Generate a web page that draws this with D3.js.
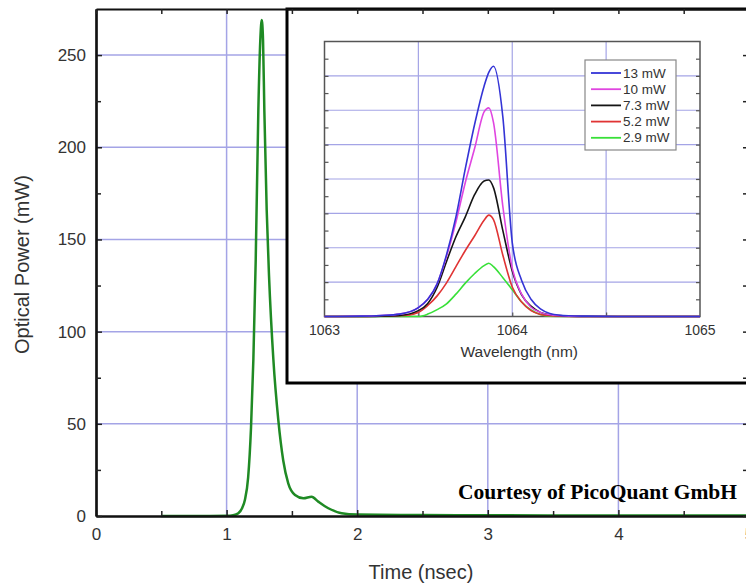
<!DOCTYPE html>
<html>
<head>
<meta charset="utf-8">
<script src="https://cdn.jsdelivr.net/npm/d3@7"></script>
<style>
body { margin:0; background:#fff; }
svg { display:block; font-family:"Liberation Sans", Arial, sans-serif; }
</style>
</head>
<body>
<svg id="drawing_region"></svg>
<script>
// main pulse: time (ns) vs optical power (mW)
const time_ns  = [0.5, 0.8, 1.0, 1.05, 1.09, 1.12, 1.14, 1.165, 1.187, 1.205, 1.223, 1.243, 1.258, 1.269, 1.279, 1.289, 1.307, 1.325, 1.358, 1.396, 1.434, 1.472, 1.524, 1.588, 1.651, 1.702, 1.779, 1.881, 2.0, 2.5, 3.0, 4.0, 5.0];
const power_mw = [0,   0,   0.1, 0.4,  1.5,  4.5,  8.7,  21,    48,    85,    139,   220,   258,   269,   258,   220,   166,   130,   85,    52,    30,    17.7,  11.4,  9.6,   10.5,  7.8,   4.2,   1.5,   0.8, 0.5, 0.4, 0.3, 0.3];

// inset spectra
const wavelength_nm = [1063.0, 1063.2, 1063.3, 1063.4, 1063.5, 1063.55, 1063.6, 1063.65, 1063.7, 1063.75, 1063.8, 1063.85, 1063.875, 1063.9, 1063.95, 1064.0, 1064.05, 1064.1, 1064.15, 1064.2, 1064.3, 1064.4, 1064.6, 1065.0];
const spec_13mw  = [0, 0.01, 0.03, 0.07, 0.26, 0.5,  0.95, 1.8,  2.9,  4.3,  5.6,  6.7,  7.1,  7.28, 5.8,  2.15, 1.05, 0.5,  0.22, 0.09, 0.02, 0.01, 0, 0];
const spec_10mw  = [0, 0.01, 0.03, 0.07, 0.26, 0.5,  0.95, 1.75, 2.75, 3.9,  4.9,  5.95, 6.07, 5.65, 3.2,  1.4,  0.65, 0.27, 0.12, 0.05, 0.01, 0,    0, 0];
const spec_7_3mw = [0, 0,    0.01, 0.03, 0.17, 0.38, 0.85, 1.6,  2.32, 2.9,  3.55, 3.94, 3.97, 3.75, 2.5,  1.32, 0.63, 0.3,  0.12, 0.05, 0.01, 0,    0, 0];
const spec_5_2mw = [0, 0,    0.01, 0.02, 0.12, 0.32, 0.6,  0.98, 1.45, 1.92, 2.35, 2.8,  2.95, 2.82, 1.78, 0.86, 0.42, 0.17, 0.06, 0.02, 0,    0,    0, 0];
const spec_2_9mw = [0, 0,    0,    0,    0,    0.07, 0.2,  0.37, 0.65, 0.97, 1.25, 1.48, 1.55, 1.45, 1.13, 0.78, 0.42, 0.19, 0.06, 0.01, 0,    0,    0, 0];
const series_labels = ['13 mW', '10 mW', '7.3 mW', '5.2 mW', '2.9 mW'];

// ticks
const time_ticks = [0, 1, 2, 3, 4, 5];
const time_minor = [0.5, 1.5, 2.5, 3.5, 4.5];
const power_ticks = [0, 50, 100, 150, 200, 250];
const power_minor = [25, 75, 125, 175, 225];
const wl_ticks = [1063, 1064, 1065];
const wl_minor = [1063.5, 1064.5];
const rel_ticks = [1, 2, 3, 4, 5, 6, 7];
const rel_minor = [0.5, 1.5, 2.5, 3.5, 4.5, 5.5, 6.5, 7.5];

var config = {
    width: 746,
    height: 583,
    main: {left: 96, right: 749, top: 9, bottom: 516},
    inset_box: {x: 287, y: 9, width: 520, height: 374},
    inset: {left: 324.5, right: 700, top: 41.5, bottom: 316.5},
    grid_color: '#a4a4e6',
    text_color: '#333',
    pulse_color: '#1f8a24',
    colors: ['#3434d6', '#e045e0', '#151515', '#e03434', '#38e038']
};

const svg = d3.select('#drawing_region')
    .attr('width', config.width)
    .attr('height', config.height);

const m = config.main;
const xscale = d3.scaleLinear().domain([0, 5]).range([m.left, m.right]);
const yscale = d3.scaleLinear().domain([0, 275]).range([m.bottom, m.top]);

// main grid
const grid = svg.append('g');
grid.selectAll('line.v').data(time_ticks.slice(1)).enter()
    .append('line')
    .attr('x1', d => xscale(d)).attr('x2', d => xscale(d))
    .attr('y1', m.top).attr('y2', m.bottom)
    .attr('stroke', config.grid_color).attr('stroke-width', 1.5);
grid.selectAll('line.h').data(power_ticks.slice(1)).enter()
    .append('line')
    .attr('x1', m.left).attr('x2', m.right)
    .attr('y1', d => yscale(d)).attr('y2', d => yscale(d))
    .attr('stroke', config.grid_color).attr('stroke-width', 1.5);

// pulse
const pulse = time_ns.map((t, i) => ({t: t, p: power_mw[i]}));
svg.append('path')
    .datum(pulse)
    .attr('fill', 'none')
    .attr('stroke', config.pulse_color)
    .attr('stroke-width', 2.5)
    .attr('d', d3.line().x(d => xscale(d.t)).y(d => yscale(d.p)).curve(d3.curveMonotoneX));

// ---------- inset ----------
const b = config.inset_box;
const n = config.inset;
const inset = svg.append('g');
inset.append('rect')
    .attr('x', b.x).attr('y', b.y)
    .attr('width', b.width).attr('height', b.height)
    .attr('fill', '#fff')
    .attr('stroke', '#000')
    .attr('stroke-width', 3);

const wx = d3.scaleLinear().domain([1063, 1065]).range([n.left, n.right]);
const wy = d3.scaleLinear().domain([0, 8]).range([n.bottom, n.top]);

inset.selectAll('line.v').data([1063.5, 1064, 1064.5]).enter()
    .append('line')
    .attr('x1', d => wx(d)).attr('x2', d => wx(d))
    .attr('y1', n.top).attr('y2', n.bottom)
    .attr('stroke', config.grid_color).attr('stroke-width', 1.2);
inset.selectAll('line.h').data(rel_ticks).enter()
    .append('line')
    .attr('x1', n.left).attr('x2', n.right)
    .attr('y1', d => wy(d)).attr('y2', d => wy(d))
    .attr('stroke', config.grid_color).attr('stroke-width', 1.2);

// inset ticks
const tick_len = 4;
inset.append('g').attr('transform', `translate(${n.left},0)`)
    .call(d3.axisLeft(wy).tickValues(rel_ticks.concat(rel_minor)).tickSize(-tick_len).tickSizeOuter(0).tickFormat(''));
inset.append('g').attr('transform', `translate(${n.right},0)`)
    .call(d3.axisRight(wy).tickValues(rel_ticks.concat(rel_minor)).tickSize(-tick_len).tickSizeOuter(0).tickFormat(''));
inset.append('g').attr('transform', `translate(0,${n.bottom})`)
    .call(d3.axisBottom(wx).tickValues(wl_minor.concat([1064])).tickSize(-tick_len).tickSizeOuter(0).tickFormat(''));
inset.selectAll('.domain').remove();
inset.selectAll('.tick line').attr('stroke', '#555').attr('stroke-width', 1.2);

inset.append('rect')
    .attr('x', n.left).attr('y', n.top)
    .attr('width', n.right - n.left).attr('height', n.bottom - n.top)
    .attr('fill', 'none').attr('stroke', '#555').attr('stroke-width', 1.5);

const spectra = [spec_13mw, spec_10mw, spec_7_3mw, spec_5_2mw, spec_2_9mw];
const wline = d3.line().x(d => wx(d[0])).y(d => wy(d[1])).curve(d3.curveMonotoneX);
// draw weakest first so the strong lines sit on top
spectra.slice().reverse().forEach((s, j) => {
    const i = spectra.length - 1 - j;
    inset.append('path')
        .datum(wavelength_nm.map((w, k) => [w, s[k]]))
        .attr('fill', 'none')
        .attr('stroke', config.colors[i])
        .attr('stroke-width', 1.6)
        .attr('d', wline);
});

inset.selectAll('text.wl').data(wl_ticks).enter()
    .append('text')
    .attr('x', d => wx(d)).attr('y', n.bottom + 18)
    .attr('text-anchor', 'middle')
    .attr('font-size', 14)
    .attr('fill', config.text_color)
    .text(d => d);
inset.append('text')
    .attr('x', (n.left + n.right) / 2 + 7).attr('y', n.bottom + 40)
    .attr('text-anchor', 'middle')
    .attr('font-size', 15.5)
    .attr('fill', config.text_color)
    .text('Wavelength (nm)');

// legend
const legend = inset.append('g').attr('transform', 'translate(585,60)');
legend.append('rect')
    .attr('width', 91).attr('height', 90)
    .attr('fill', '#fff').attr('stroke', '#888').attr('stroke-width', 1.2);
const rows = legend.selectAll('g.row').data(series_labels).enter()
    .append('g')
    .attr('transform', (d, i) => `translate(0,${13 + i * 16.2})`);
rows.append('line')
    .attr('x1', 6).attr('x2', 36)
    .attr('stroke', (d, i) => config.colors[i])
    .attr('stroke-width', 1.8);
rows.append('text')
    .attr('x', 38).attr('y', 4.5)
    .attr('font-size', 13.5)
    .attr('fill', config.text_color)
    .text(d => d);

// ---------- main axes (over the inset) ----------
const axes = svg.append('g');
const bottom_g = axes.append('g').attr('transform', `translate(0,${m.bottom})`);
bottom_g.call(d3.axisBottom(xscale).tickValues(time_ticks).tickFormat(d3.format('d')).tickSize(-6).tickSizeOuter(0).tickPadding(12));
bottom_g.append('g').call(d3.axisBottom(xscale).tickValues(time_minor).tickSize(-5).tickSizeOuter(0).tickFormat(''));

const left_g = axes.append('g').attr('transform', `translate(${m.left},0)`);
left_g.call(d3.axisLeft(yscale).tickValues(power_ticks).tickFormat(d3.format('d')).tickSize(-6).tickSizeOuter(0).tickPadding(10));
left_g.append('g').call(d3.axisLeft(yscale).tickValues(power_minor).tickSize(-5).tickSizeOuter(0).tickFormat(''));

const top_g = axes.append('g').attr('transform', `translate(0,${m.top})`);
top_g.call(d3.axisTop(xscale).tickValues(time_ticks.concat(time_minor)).tickSize(-5).tickSizeOuter(0).tickFormat(''));

const right_g = axes.append('g').attr('transform', `translate(${m.right},0)`);
right_g.call(d3.axisRight(yscale).tickValues(power_ticks.concat(power_minor)).tickSize(-6).tickSizeOuter(0).tickFormat(''));

axes.selectAll('.domain').attr('stroke', '#111').attr('stroke-width', 2.2);
axes.selectAll('.tick line').attr('stroke', '#222').attr('stroke-width', 1.5);
axes.selectAll('.tick text')
    .attr('font-size', 17)
    .attr('font-family', '"Liberation Sans", Arial, sans-serif')
    .attr('fill', config.text_color);

svg.append('text')
    .attr('transform', `translate(29,${(m.top + m.bottom) / 2 + 2}) rotate(-90)`)
    .attr('text-anchor', 'middle')
    .attr('font-size', 20)
    .attr('fill', config.text_color)
    .text('Optical Power (mW)');

svg.append('text')
    .attr('x', 421).attr('y', 579)
    .attr('text-anchor', 'middle')
    .attr('font-size', 20)
    .attr('fill', config.text_color)
    .text('Time (nsec)');

svg.append('text')
    .attr('x', 737).attr('y', 499)
    .attr('text-anchor', 'end')
    .attr('font-family', '"Liberation Serif", "Times New Roman", serif')
    .attr('font-weight', 'bold')
    .attr('font-size', 21.5)
    .attr('fill', '#000')
    .text('Courtesy of PicoQuant GmbH');
</script>
</body>
</html>
